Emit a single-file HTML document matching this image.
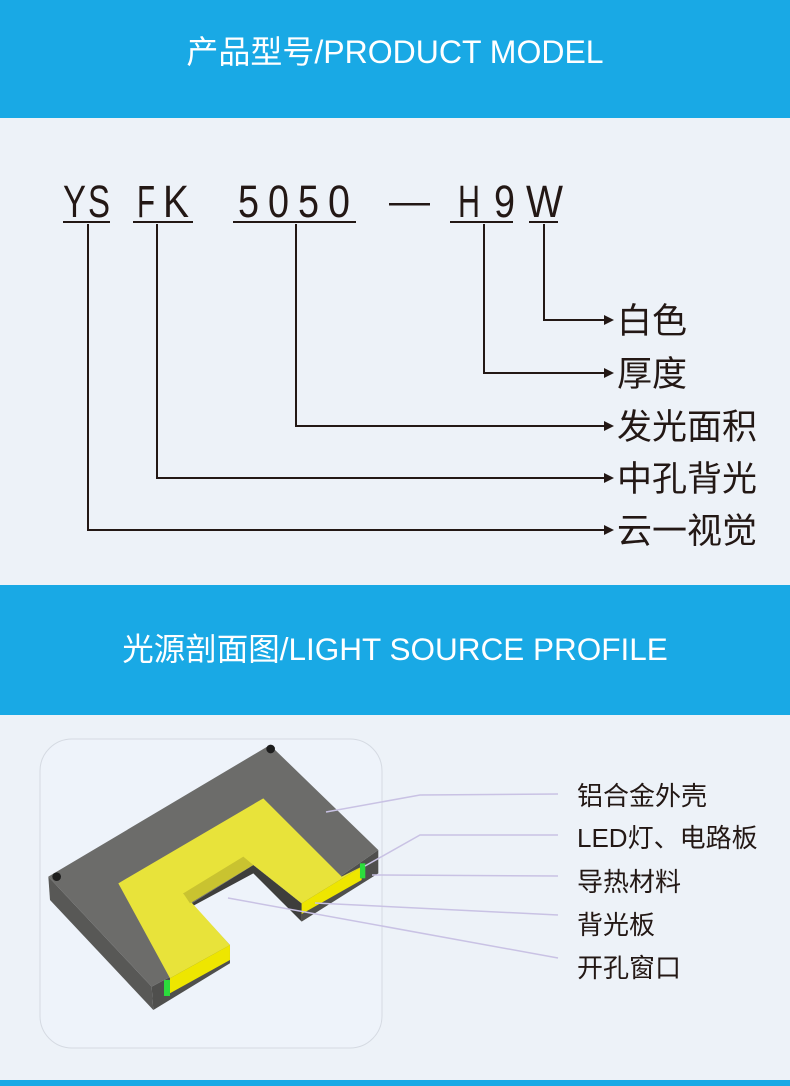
<!DOCTYPE html>
<html><head><meta charset="utf-8"><style>
html,body{margin:0;padding:0}
body{width:790px;height:1086px;position:relative;background:#edf2f8;font-family:"Liberation Sans","Noto Sans CJK SC",sans-serif;overflow:hidden}
.band{position:absolute;left:0;width:790px;background:#19a9e5;color:#fff;text-align:center}
svg{position:absolute;left:0;top:0}
</style></head><body>
<div class="band" style="top:0;height:118px;line-height:104px;font-size:32px">产品型号/PRODUCT MODEL</div>
<div class="band" style="top:585px;height:130px;line-height:128px;font-size:31.5px">光源剖面图/LIGHT SOURCE PROFILE</div>
<div class="band" style="top:1080px;height:6px"></div>
<svg width="790" height="1086" viewBox="0 0 790 1086">
<g font-family="Liberation Sans, sans-serif" font-size="45" fill="#231815">
<text x="63" y="217" textLength="23" lengthAdjust="spacingAndGlyphs">Y</text>
<text x="88" y="217" textLength="22" lengthAdjust="spacingAndGlyphs">S</text>
<text x="137" y="217" textLength="18" lengthAdjust="spacingAndGlyphs">F</text>
<text x="163" y="217" textLength="26" lengthAdjust="spacingAndGlyphs">K</text>
<text x="238" y="217" textLength="21" lengthAdjust="spacingAndGlyphs">5</text>
<text x="268" y="217" textLength="21" lengthAdjust="spacingAndGlyphs">0</text>
<text x="298" y="217" textLength="21" lengthAdjust="spacingAndGlyphs">5</text>
<text x="328" y="217" textLength="22" lengthAdjust="spacingAndGlyphs">0</text>
<text x="458" y="217" textLength="22" lengthAdjust="spacingAndGlyphs">H</text>
<text x="494" y="217" textLength="21" lengthAdjust="spacingAndGlyphs">9</text>
<text x="526" y="217" textLength="37" lengthAdjust="spacingAndGlyphs">W</text>
</g>
<rect x="389" y="203" width="41" height="2.5" fill="#231815"/>
<g stroke="#231815" stroke-width="2" fill="none">
<line x1="63" y1="222" x2="110" y2="222"/><line x1="133" y1="222" x2="193" y2="222"/>
<line x1="233" y1="222" x2="356" y2="222"/><line x1="450" y1="222" x2="513" y2="222"/>
<line x1="529" y1="222" x2="558" y2="222"/>
<polyline points="544,224 544,320 606,320"/>
<polyline points="484,224 484,373 606,373"/>
<polyline points="296,224 296,426 606,426"/>
<polyline points="157,224 157,478 606,478"/>
<polyline points="88,224 88,530 606,530"/>
</g>
<g fill="#231815">
<polygon points="614,320 604,315 604,325"/><polygon points="614,373 604,368 604,378"/>
<polygon points="614,426 604,421 604,431"/><polygon points="614,478 604,473 604,483"/>
<polygon points="614,530 604,525 604,535"/>
</g>
<g font-family="Liberation Sans, Noto Sans CJK SC, sans-serif" font-size="35" fill="#231815">
<text x="617" y="333">白色</text><text x="617" y="386">厚度</text>
<text x="617" y="439">发光面积</text><text x="617" y="491">中孔背光</text>
<text x="617" y="543">云一视觉</text>
</g>
<rect x="40" y="739" width="342" height="309" rx="32" fill="#eef3fa" stroke="#d5dae2" stroke-width="1"/>
<g transform="translate(30,730) scale(0.3333)">
<polygon points="55,440 365,770 370,840 60,510" fill="#585856"/>
<polygon points="365,770 600,645 600,700 370,840" fill="#4f4f4d"/>
<polygon points="815,520 1045,360 1045,430 815,575" fill="#4f4f4d"/>
<polygon points="485,520 670,405 815,520 815,575 670,430 485,530" fill="#3e3e3c"/>
<polygon points="720,45 1045,360 815,520 670,405 485,520 600,645 365,770 55,440" fill="#6c6c6a"/>
<polygon points="700,205 935,440 995,410 815,520 670,405 460,490 600,645 420,745 265,460" fill="#e8e33a"/>
<polygon points="640,380 670,405 480,520 460,490" fill="#c9c330"/>
<polygon points="995,410 815,520 815,552 995,450" fill="#eee600"/>
<polygon points="600,645 420,745 420,790 600,690" fill="#eee600"/>
<rect x="990" y="400" width="16" height="45" fill="#2bdc3c"/>
<rect x="402" y="750" width="18" height="48" fill="#2bdc3c"/>
<circle cx="722" cy="57" r="13" fill="#1e1e1e"/>
<circle cx="80" cy="440" r="13" fill="#1e1e1e"/>
</g>
<g stroke="#c9c2e4" stroke-width="1.5" fill="none">
<polyline points="326,812 420,795 558,794"/>
<polyline points="365,866 420,835 558,835"/>
<polyline points="372,875 558,876"/>
<polyline points="315,903 558,915"/>
<polyline points="228,898 558,958"/>
</g>
<g font-family="Liberation Sans, Noto Sans CJK SC, sans-serif" font-size="26" fill="#231815">
<text x="577" y="805">铝合金外壳</text><text x="577" y="847">LED灯、电路板</text>
<text x="577" y="891">导热材料</text><text x="577" y="934">背光板</text>
<text x="577" y="977">开孔窗口</text>
</g>
</svg>
</body></html>
